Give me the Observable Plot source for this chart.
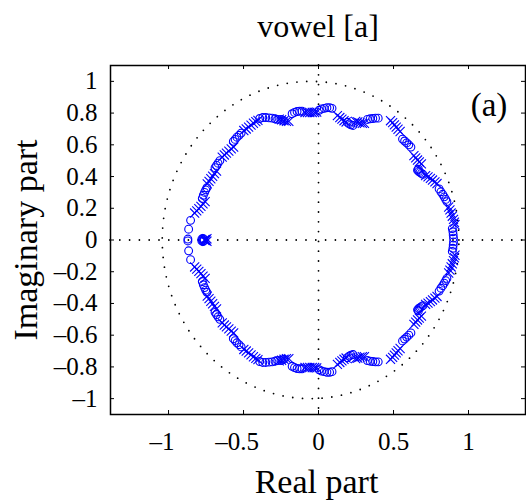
<!DOCTYPE html>
<html><head><meta charset="utf-8">
<script src="https://cdn.jsdelivr.net/npm/d3@7"></script>
<script src="https://cdn.jsdelivr.net/npm/@observablehq/plot@0.6"></script>
<style>html,body{margin:0;padding:0;background:#fff}</style>
</head><body><div id="chart"></div>
<script>
const title = "vowel [a]";
const xLabel = "Real part";
const yLabel = "Imaginary part";
const panelTag = "(a)";
const xTicks = [-1, -0.5, 0, 0.5, 1];
const yTicks = [-1, -0.8, -0.6, -0.4, -0.2, 0, 0.2, 0.4, 0.6, 0.8, 1];

// zeros (o), upper half-plane [re, im]; the lower half is the conjugate set
const zerosUpper = [
  [-0.871,0.006],[-0.866,0.068],[-0.853,0.124],
  [-0.778,0.006],[-0.770,0.010],[-0.764,0.004],
  [-0.775,0.262],[-0.768,0.282],[-0.760,0.300],[-0.752,0.316],[-0.744,0.330],
  [-0.690,0.456],[-0.680,0.470],[-0.670,0.484],[-0.658,0.500],
  [-0.568,0.622],[-0.556,0.634],[-0.544,0.648],[-0.530,0.660],[-0.516,0.674],
  [-0.392,0.766],[-0.372,0.772],[-0.352,0.772],[-0.330,0.770],[-0.310,0.768],[-0.290,0.764],[-0.272,0.760],
  [-0.250,0.760],[-0.232,0.752],
  [-0.176,0.796],[-0.160,0.804],[-0.143,0.810],[-0.126,0.812],[-0.110,0.812],
  [0.004,0.818],[0.020,0.826],[0.038,0.830],[0.056,0.834],[0.074,0.834],[0.090,0.830],
  [0.192,0.742],[0.204,0.732],[0.216,0.726],[0.230,0.722],
  [0.326,0.760],[0.344,0.764],[0.362,0.766],[0.380,0.768],[0.398,0.768],
  [0.560,0.636],[0.574,0.624],[0.588,0.612],[0.602,0.600],[0.616,0.586],
  [0.660,0.440],[0.668,0.432],[0.676,0.426],[0.686,0.420],[0.696,0.414],[0.666,0.446],
  [0.804,0.322],[0.816,0.304],[0.828,0.288],[0.838,0.272],[0.848,0.256],[0.856,0.242],
  [0.892,0.072],[0.896,0.052],[0.898,0.032],[0.900,0.012]
];

// poles (x), upper half-plane [re, im]
const polesUpper = [
  [-0.752,0.004],[-0.744,0.008],[-0.758,0.002],
  [-0.826,0.170],[-0.812,0.184],[-0.798,0.198],[-0.784,0.212],[-0.770,0.228],[-0.756,0.242],
  [-0.742,0.354],[-0.730,0.370],[-0.718,0.386],[-0.706,0.402],[-0.694,0.418],[-0.680,0.434],
  [-0.642,0.522],[-0.628,0.536],[-0.614,0.548],[-0.598,0.560],[-0.582,0.574],[-0.566,0.586],
  [-0.498,0.690],[-0.482,0.700],[-0.466,0.712],[-0.450,0.724],[-0.434,0.736],[-0.418,0.746],[-0.404,0.754],
  [-0.262,0.762],[-0.246,0.758],[-0.230,0.752],[-0.214,0.748],[-0.198,0.748],
  [-0.090,0.804],[-0.074,0.804],[-0.058,0.804],[-0.042,0.804],[-0.026,0.804],[-0.012,0.806],
  [0.126,0.784],[0.142,0.772],[0.156,0.762],[0.170,0.752],[0.184,0.744],
  [0.248,0.748],[0.262,0.744],[0.276,0.738],[0.292,0.736],[0.306,0.736],
  [0.480,0.752],[0.494,0.740],[0.506,0.726],[0.518,0.712],[0.530,0.698],[0.544,0.684],
  [0.636,0.532],[0.648,0.518],[0.660,0.504],[0.672,0.492],[0.686,0.480],
  [0.714,0.406],[0.730,0.398],[0.746,0.388],[0.760,0.378],[0.776,0.366],[0.790,0.356],
  [0.868,0.208],[0.876,0.190],[0.884,0.170],[0.892,0.150],[0.900,0.130],[0.906,0.112],[0.910,0.096]
];

// reference circle as drawn in the figure (center, radii in data units)
const circleCenter = [-0.053, 0];
const circleRadii = [0.989, 1.0];

const withConj = (pts) => pts.concat(pts.map(([re, im]) => [re, -im]));
const zeros = withConj(zerosUpper);
const poles = withConj(polesUpper);
const unitCircle = d3.range(0, 360, 1).map(a => [
  circleCenter[0] + circleRadii[0] * Math.cos(a * Math.PI / 180),
  circleCenter[1] + circleRadii[1] * Math.sin(a * Math.PI / 180)
]);

const W = 526, H = 504;
const mL = 110, mR = 1, mT = 65, mB = 90;
const frameH = H - mT - mB, frameW = W - mL - mR;
const tickLen = 4;
const font = "Liberation Serif, Times New Roman, serif";
const blue = "#0000ff";
const dotted = {stroke: "black", strokeWidth: 1.8, strokeDasharray: "0,9.8", strokeLinecap: "round"};
const fmt = d => (d < 0 ? "\u2013" : "") + String(Math.abs(d));

const chart = Plot.plot({
  width: W, height: H,
  marginLeft: mL, marginRight: mR, marginTop: mT, marginBottom: mB,
  x: {domain: [-1.387, 1.38], axis: null},
  y: {domain: [-1.1, 1.1], axis: null},
  style: {fontFamily: font, background: "white", color: "black"},
  marks: [
    Plot.ruleY([0], dotted),
    Plot.ruleX([0], dotted),
    Plot.line(unitCircle, {x: d => d[0], y: d => d[1], curve: "linear-closed", ...dotted}),
    Plot.dot(zeros, {x: d => d[0], y: d => d[1], symbol: "circle", r: 3.9, stroke: blue, strokeWidth: 1.1, fill: "none"}),
    Plot.dot(poles, {x: d => d[0], y: d => d[1], symbol: "times", r: 4.2, stroke: blue, strokeWidth: 1.1, fill: "none"}),
    // inward ticks on all four sides
    Plot.tickX(xTicks, {x: d => d, insetTop: frameH - tickLen, stroke: "black", strokeWidth: 1}),
    Plot.tickX(xTicks, {x: d => d, insetBottom: frameH - tickLen, stroke: "black", strokeWidth: 1}),
    Plot.tickY(yTicks, {y: d => d, insetRight: frameW - tickLen, stroke: "black", strokeWidth: 1}),
    Plot.tickY(yTicks, {y: d => d, insetLeft: frameW - tickLen, stroke: "black", strokeWidth: 1}),
    Plot.frame({stroke: "black", strokeWidth: 1.5}),
    // tick labels
    Plot.text(xTicks.filter(d => d >= 0), {x: d => d, text: fmt, frameAnchor: "bottom", lineAnchor: "top", dy: 18, fontSize: 25, fill: "black"}),
    Plot.text(xTicks.filter(d => d < 0), {x: d => d, text: fmt, frameAnchor: "bottom", lineAnchor: "top", dy: 18, dx: -6.5, fontSize: 25, fill: "black"}),
    Plot.text(yTicks, {y: d => d, text: fmt, frameAnchor: "left", textAnchor: "end", lineAnchor: "middle", dx: -13, fontSize: 25, fill: "black"}),
    // titles
    Plot.text([title], {text: d => d, frameAnchor: "top", lineAnchor: "middle", dy: -38.5, fontSize: 32, fill: "black"}),
    Plot.text([xLabel], {text: d => d, frameAnchor: "bottom", lineAnchor: "middle", dy: 68, dx: -1.5, fontSize: 34, fill: "black"}),
    Plot.text([yLabel], {text: d => d, frameAnchor: "left", textAnchor: "middle", lineAnchor: "middle", rotate: -90, dx: -84, fontSize: 34, fill: "black"}),
    Plot.text([panelTag], {text: d => d, frameAnchor: "top-right", textAnchor: "middle", lineAnchor: "middle", dx: -36.5, dy: 40.4, fontSize: 33, fill: "black"})
  ]
});
document.getElementById("chart").appendChild(chart);
</script>
</body></html>
